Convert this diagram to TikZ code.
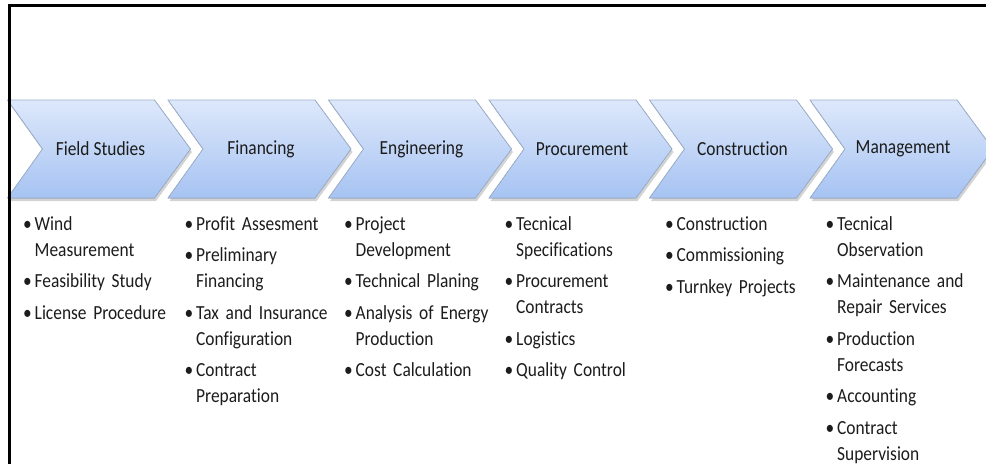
\documentclass[tikz,border=0pt]{standalone}
\usepackage{fontspec}
\setmainfont{Carlito}[FakeStretch=0.87, Ligatures=NoCommon]
\usepackage{enumitem}
\usetikzlibrary{shadows}

\definecolor{chevtop}{HTML}{DDE8FB}
\definecolor{chevbot}{HTML}{A6C3F2}
\definecolor{chevline}{HTML}{9CAFCB}
\definecolor{txtgray}{HTML}{1C1C1C}

\newcommand{\steplist}[1]{%
  \raggedright
  \begin{itemize}[label=\textbullet, leftmargin=12pt, labelsep=3pt,
    itemsep=5.5pt, topsep=0pt, parsep=0pt, partopsep=0pt]#1\end{itemize}}

\tikzset{
  chevron/.style={top color=chevtop, bottom color=chevbot, draw=chevline,
    line width=0.8pt, drop shadow={opacity=0.35, shadow xshift=1.5pt, shadow yshift=-3pt}},
  steptitle/.style={font=\fontsize{20}{24}\selectfont, text=txtgray},
  listbox/.style={anchor=north west, text width=150pt, inner sep=0pt,
    font=\fontsize{20}{26}\selectfont, text=txtgray}
}

\begin{document}
\begin{tikzpicture}[x=1pt,y=-1pt]
  \useasboundingbox (0,0) rectangle (986,464);

  % phase arrows
  \foreach \x/\name/\title in {7.5/field/Field Studies, 168/fin/Financing,
      328.5/eng/Engineering, 489/proc/Procurement, 649.5/cons/Construction,
      810/man/Management}{
    \filldraw[chevron] (\x,100) -- ++(147,0) -- ++(36,49) -- ++(-36,49)
      -- ++(-147,0) -- ++(35,-49) -- cycle;
    \node[steptitle] (\name) at (\x+93,149) {\title};
  }

  % tasks under each phase
  \node[listbox] (fieldlist) at (22.5,204) {\steplist{%
    \item Wind\newline Measurement
    \item Feasibility Study
    \item License Procedure}};
  \node[listbox] (finlist) at (184,204) {\steplist{%
    \item Profit Assesment
    \item Preliminary\newline Financing
    \item Tax and Insurance\newline Configuration
    \item Contract\newline Preparation}};
  \node[listbox] (englist) at (343.5,204) {\steplist{%
    \item Project\newline Development
    \item Technical Planing
    \item Analysis of Energy\newline Production
    \item Cost Calculation}};
  \node[listbox] (proclist) at (504,204) {\steplist{%
    \item Tecnical\newline Specifications
    \item Procurement\newline Contracts
    \item Logistics
    \item Quality Control}};
  \node[listbox] (conslist) at (664.5,204) {\steplist{%
    \item Construction
    \item Commissioning
    \item Turnkey Projects}};
  \node[listbox] (manlist) at (825,204) {\steplist{%
    \item Tecnical\newline Observation
    \item Maintenance and\newline Repair Services
    \item Production\newline Forecasts
    \item Accounting
    \item Contract\newline Supervision}};

  % frame
  \draw[line width=3pt] (9.5,464) -- (9.5,5.5) -- (986,5.5);
\end{tikzpicture}
\end{document}
